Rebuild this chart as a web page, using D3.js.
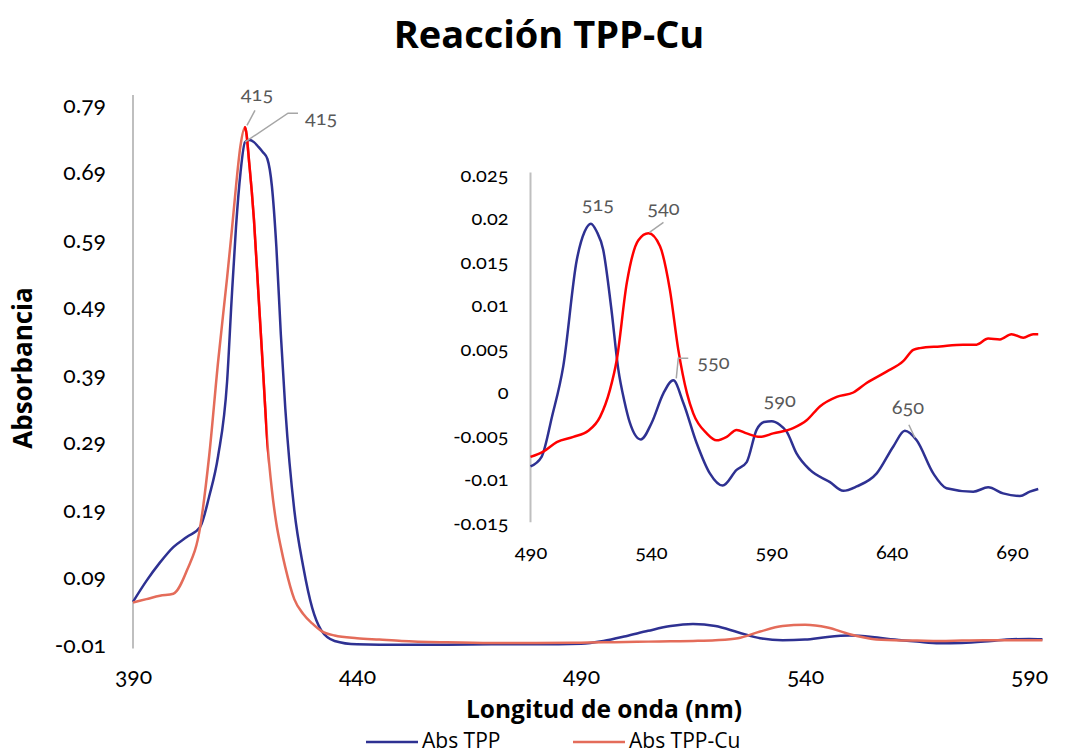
<!DOCTYPE html>
<html>
<head>
<meta charset="utf-8">
<script src="https://cdn.jsdelivr.net/npm/d3@7.9.0/dist/d3.min.js"></script>
<style>
  body { margin: 0; background: #fff; }
  svg { font-family: Lato, "Open Sans", sans-serif; font-variant-numeric: oldstyle-nums; }
  .words { font-family: "Open Sans", Lato, sans-serif; }
</style>
</head>
<body>
<svg width="1065" height="754"></svg>
<script>
// main chart: shared wavelength grid (nm)
const mainWl = [390, 393, 396, 399, 402, 405, 407, 409, 411, 412, 413, 414, 415, 416, 417, 418, 419, 420,
  421, 422, 423, 424, 426, 428, 430, 432, 435, 440, 445, 450, 460, 470, 480, 490, 495, 500, 505, 510,
  515, 520, 525, 530, 535, 540, 545, 550, 555, 560, 565, 570, 575, 580, 585, 590, 593];
const mainTpp = [0.054, 0.085, 0.112, 0.135, 0.150, 0.165, 0.21, 0.27, 0.38, 0.50, 0.61, 0.69, 0.735, 0.738,
  0.735, 0.728, 0.72, 0.71, 0.67, 0.58, 0.45, 0.34, 0.19, 0.106, 0.045, 0.012, -0.004, -0.009, -0.0095,
  -0.0095, -0.0095, -0.009, -0.009, -0.008, -0.004, 0.003, 0.011, 0.018, 0.021, 0.018, 0.009, 0.0,
  -0.003, -0.002, 0.002, 0.004, 0.002, -0.002, -0.005, -0.0075, -0.007, -0.005, -0.002, -0.001, -0.0015];
const mainCu = [0.053, 0.058, 0.063, 0.066, 0.10, 0.165, 0.27, 0.41, 0.534, 0.60, 0.67, 0.73, 0.757, 0.70,
  0.62, 0.51, 0.40, 0.29, 0.22, 0.17, 0.135, 0.105, 0.058, 0.036, 0.022, 0.011, 0.004, 0.0, -0.002,
  -0.004, -0.006, -0.007, -0.007, -0.0065, -0.006, -0.0055, -0.005, -0.0045, -0.004, -0.003, 0.0, 0.01,
  0.018, 0.02, 0.016, 0.006, -0.001, -0.003, -0.0035, -0.004, -0.0035, -0.003, -0.003, -0.003, -0.003];
const mainXTicks = [390, 440, 490, 540, 590];
const mainYTicks = [-0.01, 0.09, 0.19, 0.29, 0.39, 0.49, 0.59, 0.69, 0.79];

// inset chart
const insetWlTpp = [490, 494.6, 499, 503.6, 509.2, 512.5, 515.1, 517.5, 520.2, 523.5, 526.5, 529, 531.3,
  535.8, 540.3, 545.2, 549.3, 553.5, 559, 564.5, 569.8, 575.6, 579.8, 583.9, 587, 590.2, 593.5, 596.4,
  600.5, 606.1, 614.4, 619.9, 625.5, 633.8, 640.7, 645.5, 650.4, 657.3, 662.8, 673.9, 680.1, 686.3,
  693.3, 697.4, 700.9];
const insetTpp = [-0.0085, -0.0074, -0.0027, 0.0030, 0.0152, 0.0185, 0.0194, 0.0185, 0.0164, 0.0098,
  0.0026, -0.001, -0.0035, -0.0054, -0.0035, -0.0001, 0.0014, -0.0012, -0.0058, -0.0093, -0.0107,
  -0.0089, -0.0080, -0.0043, -0.0034, -0.0033, -0.0037, -0.0045, -0.0070, -0.0089, -0.0103, -0.0113,
  -0.0108, -0.0093, -0.0062, -0.0044, -0.0055, -0.0093, -0.0110, -0.0114, -0.0109, -0.0116, -0.0119,
  -0.0114, -0.0111];
const insetWlCu = [490, 495.3, 500.9, 507.8, 514, 518.9, 523, 525.8, 530, 534.8, 539, 543.8, 547.9, 551.4,
  555, 557.6, 563.2, 567.3, 571.5, 575.6, 579.8, 585.3, 590.8, 599.1, 604.7, 610.2, 617.2, 624.1, 629.6,
  637.9, 644.8, 649, 651.8, 660.1, 669.7, 675.3, 680.1, 685, 689.8, 694.7, 698.8, 700.9];
const insetCu = [-0.0074, -0.0068, -0.0057, -0.0051, -0.0044, -0.0028, 0.0003, 0.0037, 0.0126, 0.0175,
  0.0183, 0.0168, 0.0118, 0.0049, -0.0001, -0.0024, -0.0047, -0.0055, -0.0051, -0.0043, -0.0047,
  -0.0051, -0.0047, -0.0041, -0.0032, -0.0016, -0.0005, 0.0, 0.0011, 0.0024, 0.0036, 0.0049, 0.0051,
  0.0053, 0.0055, 0.0055, 0.0062, 0.0061, 0.0067, 0.0063, 0.0067, 0.0067];
const insetXTicks = [490, 540, 590, 640, 690];
const insetYTicks = [-0.015, -0.01, -0.005, 0, 0.005, 0.01, 0.015, 0.02, 0.025];

const seriesNames = ["Abs TPP", "Abs TPP-Cu"];
const BLUE = "#2e3192", SALMON = "#e46c5a", RED = "#ff0000", GRAY = "#bfbfbf", LABEL = "#595959";

const svg = d3.select("svg");
const zip = (xs, ys) => xs.map((x, i) => ({ x, y: ys[i] }));

svg.append("text").attr("class", "words")
  .attr("x", 549).attr("y", 48)
  .attr("text-anchor", "middle")
  .attr("font-size", 38).attr("font-weight", "bold")
  .text("Reacción TPP-Cu");

// tick label styling shared by both charts
const styleAxis = (g, size) => {
  g.attr("font-family", null).attr("font-size", null);
  g.selectAll("text").attr("font-size", size).attr("fill", "#000");
};

// ---- main chart ----
const x = d3.scaleLinear().domain([390, 590]).range([133, 1029]);
const y = d3.scaleLinear().domain([-0.01, 0.79]).range([645, 105]);

const yAxis = svg.append("g").attr("transform", "translate(133,0)")
  .call(d3.axisLeft(y).tickValues(mainYTicks).tickSize(0).tickPadding(27)
    .tickFormat((d) => d.toFixed(2)));
yAxis.select(".domain").attr("d", `M0,${y(0.805)}V${y(-0.015)}`).attr("stroke", GRAY).attr("stroke-width", 2);
styleAxis(yAxis, 23);

const xAxis = svg.append("g").attr("transform", "translate(0,645)")
  .call(d3.axisBottom(x).tickValues(mainXTicks).tickSize(0).tickPadding(23).tickFormat(d3.format("d")));
xAxis.select(".domain").remove();
styleAxis(xAxis, 23);

const line = d3.line().x((d) => x(d.x)).y((d) => y(d.y)).curve(d3.curveMonotoneX);
const tppData = zip(mainWl, mainTpp);
const cuData = zip(mainWl, mainCu);

svg.append("path").datum(tppData).attr("d", line)
  .attr("fill", "none").attr("stroke", BLUE).attr("stroke-width", 2.5);
svg.append("path").datum(cuData).attr("d", line)
  .attr("fill", "none").attr("stroke", SALMON).attr("stroke-width", 2.5);

// highlighted descending part of the Cu peak
svg.append("clipPath").attr("id", "peakClip").append("rect")
  .attr("x", x(414.8)).attr("y", 0).attr("width", x(420) - x(414.8)).attr("height", 754);
svg.append("path").datum(cuData).attr("d", line).attr("clip-path", "url(#peakClip)")
  .attr("fill", "none").attr("stroke", RED).attr("stroke-width", 2.5);

svg.append("text").attr("class", "words")
  .attr("transform", "translate(32,368) rotate(-90)")
  .attr("text-anchor", "middle").attr("font-size", 26).attr("font-weight", "bold")
  .text("Absorbancia");
svg.append("text").attr("class", "words")
  .attr("x", 604).attr("y", 718)
  .attr("text-anchor", "middle").attr("font-size", 24.5).attr("font-weight", "bold")
  .text("Longitud de onda (nm)");

// ---- inset chart ----
const ix = d3.scaleLinear().domain([490, 690]).range([530.5, 1012]);
const iy = d3.scaleLinear().domain([-0.015, 0.025]).range([523, 175]);

const iyAxis = svg.append("g").attr("transform", "translate(530.5,0)")
  .call(d3.axisLeft(iy).tickValues(insetYTicks).tickSize(0).tickPadding(22)
    .tickFormat((d) => String(+d.toFixed(3))));
iyAxis.select(".domain").attr("d", `M0,${iy(0.0253)}V${iy(-0.0149)}`).attr("stroke", GRAY).attr("stroke-width", 2);
styleAxis(iyAxis, 20);

const ixAxis = svg.append("g").attr("transform", "translate(0,523)")
  .call(d3.axisBottom(ix).tickValues(insetXTicks).tickSize(0).tickPadding(22).tickFormat(d3.format("d")));
ixAxis.select(".domain").remove();
styleAxis(ixAxis, 20);

const iline = d3.line().x((d) => ix(d.x)).y((d) => iy(d.y)).curve(d3.curveMonotoneX);
const iTpp = zip(insetWlTpp, insetTpp);
const iCu = zip(insetWlCu, insetCu);
svg.append("path").datum(iTpp).attr("d", iline)
  .attr("fill", "none").attr("stroke", BLUE).attr("stroke-width", 2.5);
svg.append("path").datum(iCu).attr("d", iline)
  .attr("fill", "none").attr("stroke", RED).attr("stroke-width", 2.5);

// ---- data labels: anchor point + label offset + leader line ----
const labels = [
  { pt: cuData.find((d) => d.x === 415), sx: x, sy: y, text: "415", dx: 12, dy: -26, anchor: "middle",
    leader: [[2, -2], [10, -17]] },
  { pt: tppData.find((d) => d.x === 415), sx: x, sy: y, text: "415", dx: 60, dy: -17, anchor: "start",
    leader: [[0, 0], [43, -29], [53, -29]] },
  { pt: iTpp.find((d) => d.x === 515.1), sx: ix, sy: iy, text: "515", dx: 7, dy: -13, anchor: "middle" },
  { pt: iCu.find((d) => d.x === 539), sx: ix, sy: iy, text: "540", dx: 15, dy: -18, anchor: "middle",
    leader: [[1, -1], [15, -11]] },
  { pt: iTpp.find((d) => d.x === 549.3), sx: ix, sy: iy, text: "550", dx: 24, dy: -11, anchor: "start",
    leader: [[3, -2], [5, -22], [15, -22]] },
  { pt: iTpp.find((d) => d.x === 590.2), sx: ix, sy: iy, text: "590", dx: 8, dy: -14, anchor: "middle" },
  { pt: iTpp.find((d) => d.x === 645.5), sx: ix, sy: iy, text: "650", dx: 3, dy: -17, anchor: "middle",
    leader: [[4, -6], [10, 7]] },
];
labels.forEach((l) => {
  const px = l.sx(l.pt.x), py = l.sy(l.pt.y);
  if (l.leader) {
    svg.append("path")
      .attr("d", d3.line()(l.leader.map(([a, b]) => [px + a, py + b])))
      .attr("fill", "none").attr("stroke", "#a6a6a6").attr("stroke-width", 1.5);
  }
  svg.append("text")
    .attr("x", px + l.dx).attr("y", py + l.dy)
    .attr("text-anchor", l.anchor).attr("font-size", 20).attr("fill", LABEL)
    .text(l.text);
});

// ---- legend ----
const legend = svg.append("g").attr("transform", "translate(366,742)");
[[0, BLUE], [207, SALMON]].forEach(([ox, c], i) => {
  legend.append("line").attr("x1", ox).attr("x2", ox + 52).attr("y1", 0).attr("y2", 0)
    .attr("stroke", c).attr("stroke-width", 2.5);
  legend.append("text").attr("class", "words")
    .attr("x", ox + 56).attr("y", 6).attr("font-size", 21).text(seriesNames[i]);
});
</script>
</body>
</html>
